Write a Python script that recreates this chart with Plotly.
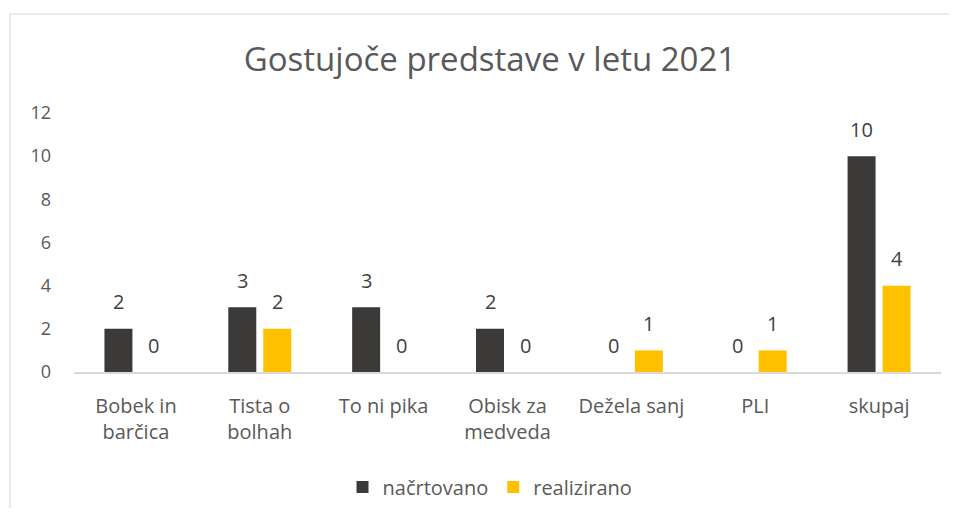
import plotly.graph_objects as go

categories = ["Bobek in<br>barčica", "Tista o<br>bolhah", "To ni pika", "Obisk za<br>medveda", "Dežela sanj", "PLI", "skupaj"]
nacrtovano = [2, 3, 3, 2, 0, 0, 10]
realizirano = [0, 2, 0, 0, 1, 1, 4]
series_names = ["načrtovano", "realizirano"]
colors = ["#3B3A38", "#FFC000"]
title_text = "Gostujoče predstave v letu 2021"
y_ticks = [0, 2, 4, 6, 8, 10, 12]

FONT = "'Open Sans', sans-serif"
TXT = "#595959"

# figure size (page adds an 8px body margin) and plot area geometry (figure pixels)
W, H = 949, 500
L, R, T, B = 66, 16, 105, 136
PW, PH = W - L - R, H - T - B

fig = go.Figure()
for name, vals, col in zip(series_names, [nacrtovano, realizirano], colors):
    fig.add_trace(go.Bar(x=categories, y=vals, name=name, marker_color=col,
                         marker_line_width=0))

annotations = []
for shift, vals in zip([-17.5, 17.5], [nacrtovano, realizirano]):
    for c, v in zip(categories, vals):
        annotations.append(dict(x=c, y=v, xref="x", yref="y", text=str(v), showarrow=False,
                                xshift=shift, yshift=27, yanchor="middle",
                                font=dict(family=FONT, size=20, color="#404040")))

fig.update_layout(
    width=W, height=H,
    margin=dict(l=L, r=R, t=T, b=B, autoexpand=False),
    paper_bgcolor="white", plot_bgcolor="white",
    barmode="group", bargap=0.435, bargroupgap=0.2,
    title=dict(text=title_text, x=482 / W, xanchor="center", y=1 - 51 / H, yanchor="middle",
               font=dict(family=FONT, size=33, color=TXT)),
    font=dict(family=FONT, size=18, color=TXT),
    showlegend=True,
    legend=dict(orientation="h", xref="container", x=482 / W, xanchor="center",
                yref="container", y=1 - 479 / H, yanchor="middle",
                font=dict(family=FONT, size=20, color=TXT), traceorder="normal"),
    annotations=annotations,
    shapes=[dict(type="rect", xref="paper", yref="paper", x0=(2 - L) / PW, x1=1.2,
                 y0=-0.9, y1=(364 - 6) / PH, line=dict(color="#D9D9D9", width=1.2),
                 fillcolor="rgba(0,0,0,0)", layer="below")],
)
fig.update_xaxes(showgrid=False, showline=True, linecolor="#D9D9D9", linewidth=1.5,
                 ticks="", ticklabelstandoff=15, tickfont=dict(size=20, color=TXT),
                 automargin=False)
fig.update_yaxes(range=[0, 12], tickvals=y_ticks, showgrid=False, zeroline=False,
                 showline=False, ticks="", ticklabelstandoff=22,
                 tickfont=dict(size=18, color=TXT), automargin=False)

fig.write_html("out.html")
